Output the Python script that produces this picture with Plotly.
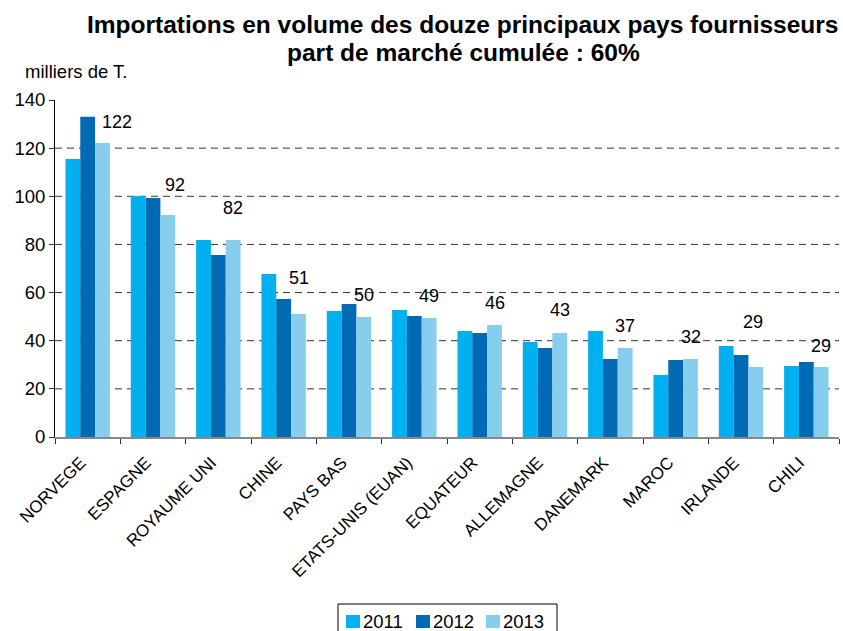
import plotly.graph_objects as go

categories = ["NORVEGE", "ESPAGNE", "ROYAUME UNI", "CHINE", "PAYS BAS", "ETATS-UNIS (EUAN)",
              "EQUATEUR", "ALLEMAGNE", "DANEMARK", "MAROC", "IRLANDE", "CHILI"]
v2011 = [115.5, 100.1, 81.8, 67.7, 52.3, 52.8, 44.0, 39.5, 44.0, 25.8, 37.8, 29.5]
v2012 = [133.0, 99.3, 75.6, 57.3, 55.3, 50.3, 43.2, 37.0, 32.4, 32.0, 34.1, 31.2]
v2013 = [122.1, 92.2, 81.8, 51.1, 49.9, 49.4, 46.5, 43.2, 37.0, 32.4, 29.1, 29.1]
years = ["2011", "2012", "2013"]
colors = ["#00B0F0", "#006AB4", "#87CEEE"]

title_lines = ["Importations en volume des douze principaux pays fournisseurs",
               "part de marché cumulée : 60%"]
unit_label = "milliers de T."

# label placement (manually moved labels in the original chart)
label_y = [130.9, 104.7, 95.0, 66.0, 59.0, 58.6, 55.7, 52.8, 46.0, 41.5, 47.8, 37.8]
label_dx = [14, 7, 0, 0, 0, 0, 0, 0, 0, 0, -3, 0]
grid_vals = [20, 40, 60, 80, 100, 120]
y_ticks = [0, 20, 40, 60, 80, 100, 120, 140]

FONT = "Liberation Sans, Arial, sans-serif"
W, H = 843, 631
ML, MR, MT, MB = 55, 4, 100, 194
PW, PH = W - ML - MR, H - MT - MB


def px_x(px):
    return (px - ML) / PW


def px_y(py):
    return (H - MB - py) / PH


fig = go.Figure()
for yr, vals, c in zip(years, [v2011, v2012, v2013], colors):
    fig.add_trace(go.Bar(x=categories, y=vals, name=yr, marker=dict(color=c, line=dict(width=0)),
                         showlegend=False))

shapes = []
for g in grid_vals:
    shapes.append(dict(type="line", xref="paper", yref="y", x0=0, x1=1, y0=g, y1=g,
                       line=dict(color="#333333", width=1, dash="7px,5px"), layer="below"))

annotations = []
for cat, val, ly, dx in zip(categories, v2013, label_y, label_dx):
    annotations.append(dict(x=cat, y=ly, xref="x", yref="y", text=str(round(val)),
                            showarrow=False, xshift=15 + dx, yanchor="middle",
                            font=dict(size=18, color="#000000", family=FONT)))
annotations.append(dict(x=px_x(23), y=px_y(71), xref="paper", yref="paper", xanchor="left",
                        yanchor="middle", text=unit_label, showarrow=False,
                        font=dict(size=18.5, color="#000000", family=FONT)))
for line, py in zip(title_lines, [25, 53]):
    annotations.append(dict(x=px_x(463), y=px_y(py), xref="paper", yref="paper", xanchor="center",
                            yanchor="middle", text="<b>" + line + "</b>", showarrow=False,
                            font=dict(size=24.5, color="#000000", family=FONT)))

# legend drawn as a framed box with square keys
shapes.append(dict(type="rect", xref="paper", yref="paper", x0=px_x(338), x1=px_x(557),
                   y0=px_y(604), y1=px_y(645), line=dict(color="#000000", width=1),
                   fillcolor="rgba(0,0,0,0)"))
for i, (yr, c) in enumerate(zip(years, colors)):
    x0 = 346 + 70 * i
    shapes.append(dict(type="rect", xref="paper", yref="paper", x0=px_x(x0), x1=px_x(x0 + 14),
                       y0=px_y(615), y1=px_y(628), line=dict(width=0), fillcolor=c))
    annotations.append(dict(x=px_x(x0 + 15), y=px_y(621.5), xref="paper", yref="paper",
                            xanchor="left", yanchor="middle", text=yr, showarrow=False,
                            font=dict(size=18.5, color="#000000", family=FONT)))

fig.update_layout(
    width=W, height=H,
    margin=dict(l=ML, r=MR, t=MT, b=MB, autoexpand=False),
    paper_bgcolor="white", plot_bgcolor="white",
    font=dict(family=FONT, color="#000000", size=18),
    barmode="group", bargap=0.32, bargroupgap=0,
    showlegend=False,
    shapes=shapes, annotations=annotations,
)
fig.update_xaxes(type="category", tickangle=-45, tickson="boundaries", ticks="outside", ticklen=5,
                 tickcolor="#333333", showline=True, linecolor="#888888", linewidth=2,
                 showgrid=False, automargin=False, ticklabelstandoff=7, ticklabelshift=-7,
                 tickfont=dict(size=17, family=FONT, color="#000000"))
fig.update_yaxes(range=[0, 140], tickvals=y_ticks, ticks="outside", ticklen=5, tickcolor="#333333",
                 showline=True, linecolor="#000000", linewidth=1, showgrid=False, zeroline=False,
                 automargin=False, tickfont=dict(size=18.5, family=FONT, color="#000000"))

fig.write_html("out.html", config={"displayModeBar": False},
               post_script="document.body.style.margin='0px';")
